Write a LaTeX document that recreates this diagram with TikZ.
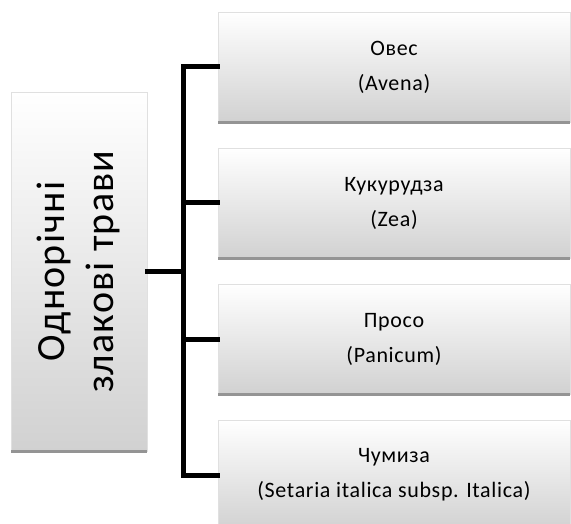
\documentclass[tikz,border=0pt]{standalone}
\usepackage{fontspec}
\setmainfont{Carlito}
\newfontfamily\leaffont[LetterSpace=3]{Carlito}
\newfontfamily\rootfont[LetterSpace=3]{Carlito}
\begin{document}
\begin{tikzpicture}[x=1pt,y=-1pt,
  box/.style={draw=black!12, line width=0.8pt, top color=white, bottom color=black!18, inner sep=0pt, align=center},
  leaf/.style={box, minimum width=352pt, minimum height=110pt, font=\leaffont\fontsize{22}{35}\selectfont},
  rootbox/.style={box, minimum width=136pt, minimum height=359pt, font=\rootfont\fontsize{40}{49}\selectfont},
  conn/.style={line width=5pt, line join=miter, line cap=rect},
  shadowband/.style={fill=black!42}]
\useasboundingbox (0,0) rectangle (571,524);
\node[rootbox] (root) at (79,271.5) {\rotatebox{90}{\begin{tabular}{@{}c@{}}Однорічні\\ злакові трави\end{tabular}}};
\node[leaf] (b1) at (394,67) {Овес\\(Avena)};
\node[leaf] (b2) at (394,203) {Кукурудза\\(Zea)};
\node[leaf] (b3) at (394,339) {Просо\\(Panicum)};
\node[leaf] (b4) at (394,475) {Чумиза\\(Setaria italica subsp. Italica)};
\foreach \n in {root,b1,b2,b3,b4}{
  \fill[shadowband] ([yshift=1pt]\n.south west) rectangle ([yshift=-2pt]\n.south east);
}
\coordinate (j) at (183.5,272);
\draw[conn] (root.east) -- (root.east -| j);
\draw[conn] (b1.west) -| (j) |- (b4.west);
\draw[conn] (b2.west) -- (b2.west -| j);
\draw[conn] (b3.west) -- (b3.west -| j);
\end{tikzpicture}
\end{document}
